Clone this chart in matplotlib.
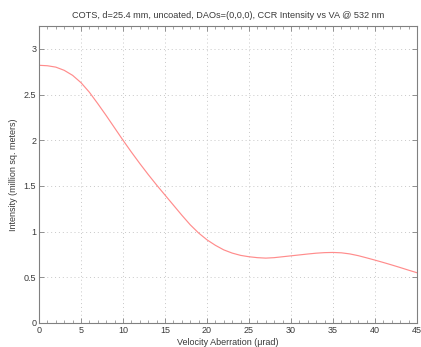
import numpy as np
import matplotlib
matplotlib.use('Agg')
import matplotlib.pyplot as plt
from matplotlib.ticker import MultipleLocator

# Velocity aberration (urad) and CCR intensity (million sq. meters)
va = list(range(0, 46))
intensity = [2.82, 2.815, 2.80, 2.765, 2.71, 2.63, 2.525, 2.40, 2.27, 2.135,
             2.00, 1.87, 1.745, 1.625, 1.51, 1.40, 1.29, 1.18, 1.075, 0.985,
             0.91, 0.85, 0.80, 0.765, 0.74, 0.725, 0.715, 0.71, 0.715, 0.725,
             0.735, 0.745, 0.755, 0.764, 0.77, 0.772, 0.768, 0.756, 0.737, 0.713,
             0.688, 0.662, 0.635, 0.607, 0.578, 0.55]
yticks = [0, 0.5, 1, 1.5, 2, 2.5, 3]
ytick_labels = ['0', '0.5', '1', '1.5', '2', '2.5', '3']
xticks = list(range(0, 50, 5))

plt.rcParams['font.family'] = ['Liberation Sans', 'DejaVu Sans']
text_col = '#3a3a3a'
axis_col = '#808080'

fig = plt.figure(figsize=(4.21, 3.47), dpi=100)
ax = fig.add_axes([39 / 421, 24 / 347, 378 / 421, 297 / 347])

ax.plot(va, intensity, color='#ff8c8c', lw=0.85)

ax.set_xlim(0, 45)
ax.set_ylim(0, 3.25)
ax.set_xticks(xticks)
ax.set_yticks(yticks)
ax.set_yticklabels(ytick_labels)
ax.xaxis.set_minor_locator(MultipleLocator(1))

ax.grid(True, which='major', linestyle=(0, (1, 3)), color='#c8c8c8', lw=0.7)
ax.tick_params(which='both', direction='in', top=True, right=True,
               colors=axis_col, labelcolor=text_col, labelsize=6.5, pad=2)
ax.tick_params(which='major', length=3.5, width=0.6)
ax.tick_params(which='minor', length=2, width=0.5)
for sp in ax.spines.values():
    sp.set_color(axis_col)
    sp.set_linewidth(0.8)

ax.set_title('COTS, d=25.4 mm, uncoated, DAOs=(0,0,0), CCR Intensity vs VA @ 532 nm',
             fontsize=6.6, color=text_col, pad=6)
ax.set_xlabel('Velocity Aberration (\u03bcrad)', fontsize=6.5, color=text_col, labelpad=2)
ax.set_ylabel('Intensity (million sq. meters)', fontsize=6.5, color=text_col, labelpad=4)

fig.savefig('out.png', dpi=100)
